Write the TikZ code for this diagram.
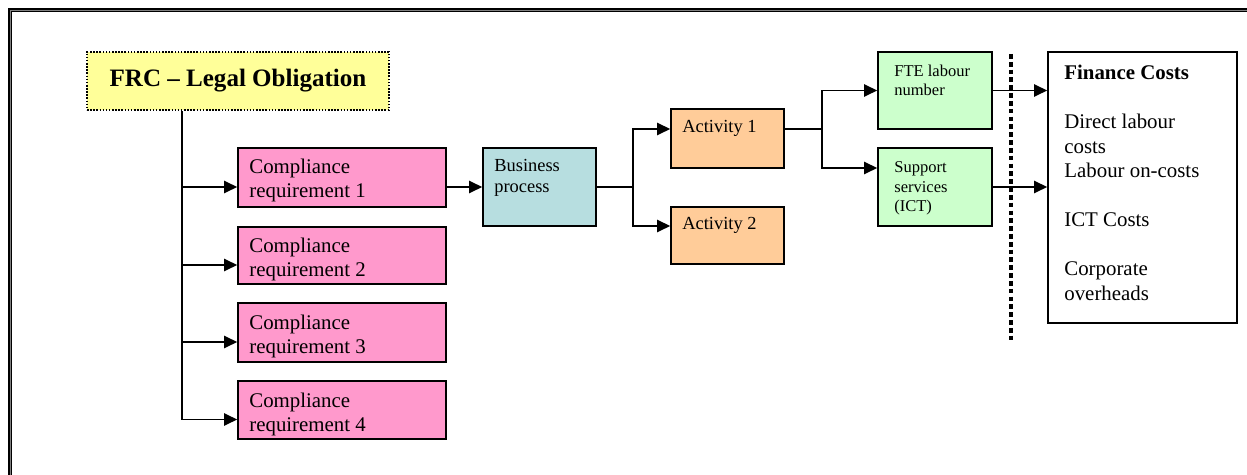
\documentclass[tikz,border=0pt]{standalone}
\usepackage{fontspec}
\setmainfont{Liberation Serif}
\usetikzlibrary{arrows.meta,calc}
\definecolor{frcyellow}{HTML}{FFFF99}
\definecolor{comppink}{HTML}{FF99CC}
\definecolor{bpblue}{RGB}{183,222,224}
\definecolor{actorange}{HTML}{FFCC99}
\definecolor{supgreen}{HTML}{CCFFCC}
\def\u{0.575pt}
\newcommand\boxat[6]{% name, x1, y1, x2, y2, fill colour
  \node[boxbase,fill=#6,minimum width={(#4-#2)*\u},minimum height={(#5-#3)*\u}] (#1) at ({(#2+#4)/2},{(#3+#5)/2}) {};}
\tikzset{
  boxbase/.style={draw=black,line width=0.85pt,rectangle,inner sep=0pt},
  txt/.style={anchor=base west,inner sep=0pt,align=left,font=\fontsize{12}{13.8}\selectfont},
  txtmid/.style={anchor=base west,inner sep=0pt,align=left,font=\fontsize{10.6}{12.1}\selectfont},
  txtsmall/.style={anchor=base west,inner sep=0pt,align=left,font=\fontsize{9.5}{11.3}\selectfont},
  arr/.style={line width=1.1pt,-{Triangle[length=7.5pt,width=6.9pt]}},
  plain/.style={line width=0.75pt},
  trunk/.style={line width=1.1pt},
  sepline/.style={line width=2.7pt,dash pattern=on 2.7pt off 1.8pt},
}
\begin{document}
\begin{tikzpicture}[x=0.575pt,y=-0.575pt]
\useasboundingbox (0,0) rectangle (1247,475);
% frame (top and left visible)
\draw[line width=4*\u,black] (10.3,475) -- (10.3,10.3) -- (1247,10.3);
\draw[line width=0.9*\u,gray] (10.3,475) -- (10.3,10.3) -- (1247,10.3);
% title
\node[draw=black,fill=frcyellow,dash pattern=on 0.9pt off 0.9pt,line width=0.9pt,
  minimum width={302*\u},minimum height={58*\u},inner sep=0pt,
  font=\fontsize{14.4}{16}\selectfont\bfseries] (title) at (238,81) {FRC -- Legal Obligation};
% compliance boxes
\boxat{c1}{238}{148}{446}{207}{comppink}
\boxat{c2}{238}{227}{446}{284}{comppink}
\boxat{c3}{238}{303}{446}{362}{comppink}
\boxat{c4}{238}{381}{446}{439}{comppink}
% (anchor base = baseline of last line)
\node[txt] (c1t) at (249,198) {Compliance\\requirement 1};
\node[txt] (c2t) at (249,277) {Compliance\\requirement 2};
\node[txt] (c3t) at (249,353.5) {Compliance\\requirement 3};
\node[txt] (c4t) at (249,431) {Compliance\\requirement 4};
% business process
\boxat{bp}{483}{148}{596}{226}{bpblue}
\node[txtmid] (bpt) at (494,193) {Business\\process};
% activities
\boxat{a1}{671}{109}{784}{168}{actorange}
\boxat{a2}{671}{207}{784}{264}{actorange}
\node[txtmid] (a1t) at (682,133) {Activity 1};
\node[txtmid] (a2t) at (682,230) {Activity 2};
% FTE / support
\boxat{fte}{878}{52}{992}{129}{supgreen}
\boxat{sup}{878}{148}{992}{226}{supgreen}
\node[txtsmall] (ftet) at (894,96) {FTE labour\\number};
\node[txtsmall] (supt) at (894,212) {Support\\services\\(ICT)};
% finance
\boxat{fin}{1048}{52}{1237}{323}{white}
\node[txt,font=\fontsize{12}{14.1}\selectfont] (fint) at (1064,300.5)
  {\textbf{Finance Costs}\\[14.1pt]Direct labour\\costs\\Labour on-costs\\[14.1pt]ICT Costs\\[14.1pt]Corporate\\overheads};
% separator
\coordinate (sepTop) at (1011,54);
\coordinate (sepBot) at (1011,340);
\draw[sepline] (sepTop) -- (sepBot);
% trunk from title
\coordinate (tr) at (182,0);
\coordinate (c1a) at ([yshift=-9.5*\u]c1.west);
\coordinate (c2a) at ([yshift=-9.5*\u]c2.west);
\coordinate (c3a) at ([yshift=-9.5*\u]c3.west);
\coordinate (c4a) at ([yshift=-9.5*\u]c4.west);
\draw[trunk] (title.south -| tr) -- (tr |- c4a);
\draw[arr] (tr |- c1a) -- (c1a);
\draw[arr] (tr |- c2a) -- (c2a);
\draw[arr] (tr |- c3a) -- (c3a);
\draw[arr] (tr |- c4a) -- (c4a);
% compliance 1 -> business process
\draw[arr] (bp.west -| c1.east) -- (bp.west);
% business process -> activities
\coordinate (sp1) at (633,187);
\draw[plain] (bp.east) -- (sp1);
\draw[arr] (sp1) |- ([yshift=9.5*\u]a1.west);
\draw[arr] (sp1) |- ([yshift=9.5*\u]a2.west);
% activity 1 -> FTE / support
\coordinate (sp2) at (822,129);
\draw[plain] ([yshift=9.5*\u]a1.east) -- (sp2);
\draw[arr] (sp2) |- (fte.west);
\draw[arr] (sp2) |- ([yshift=19*\u]sup.west);
% to finance
\draw[arr] (fte.east) -- (fte.east -| fin.west);
\draw[arr] (sup.east) -- (sup.east -| fin.west);
\end{tikzpicture}
\end{document}
